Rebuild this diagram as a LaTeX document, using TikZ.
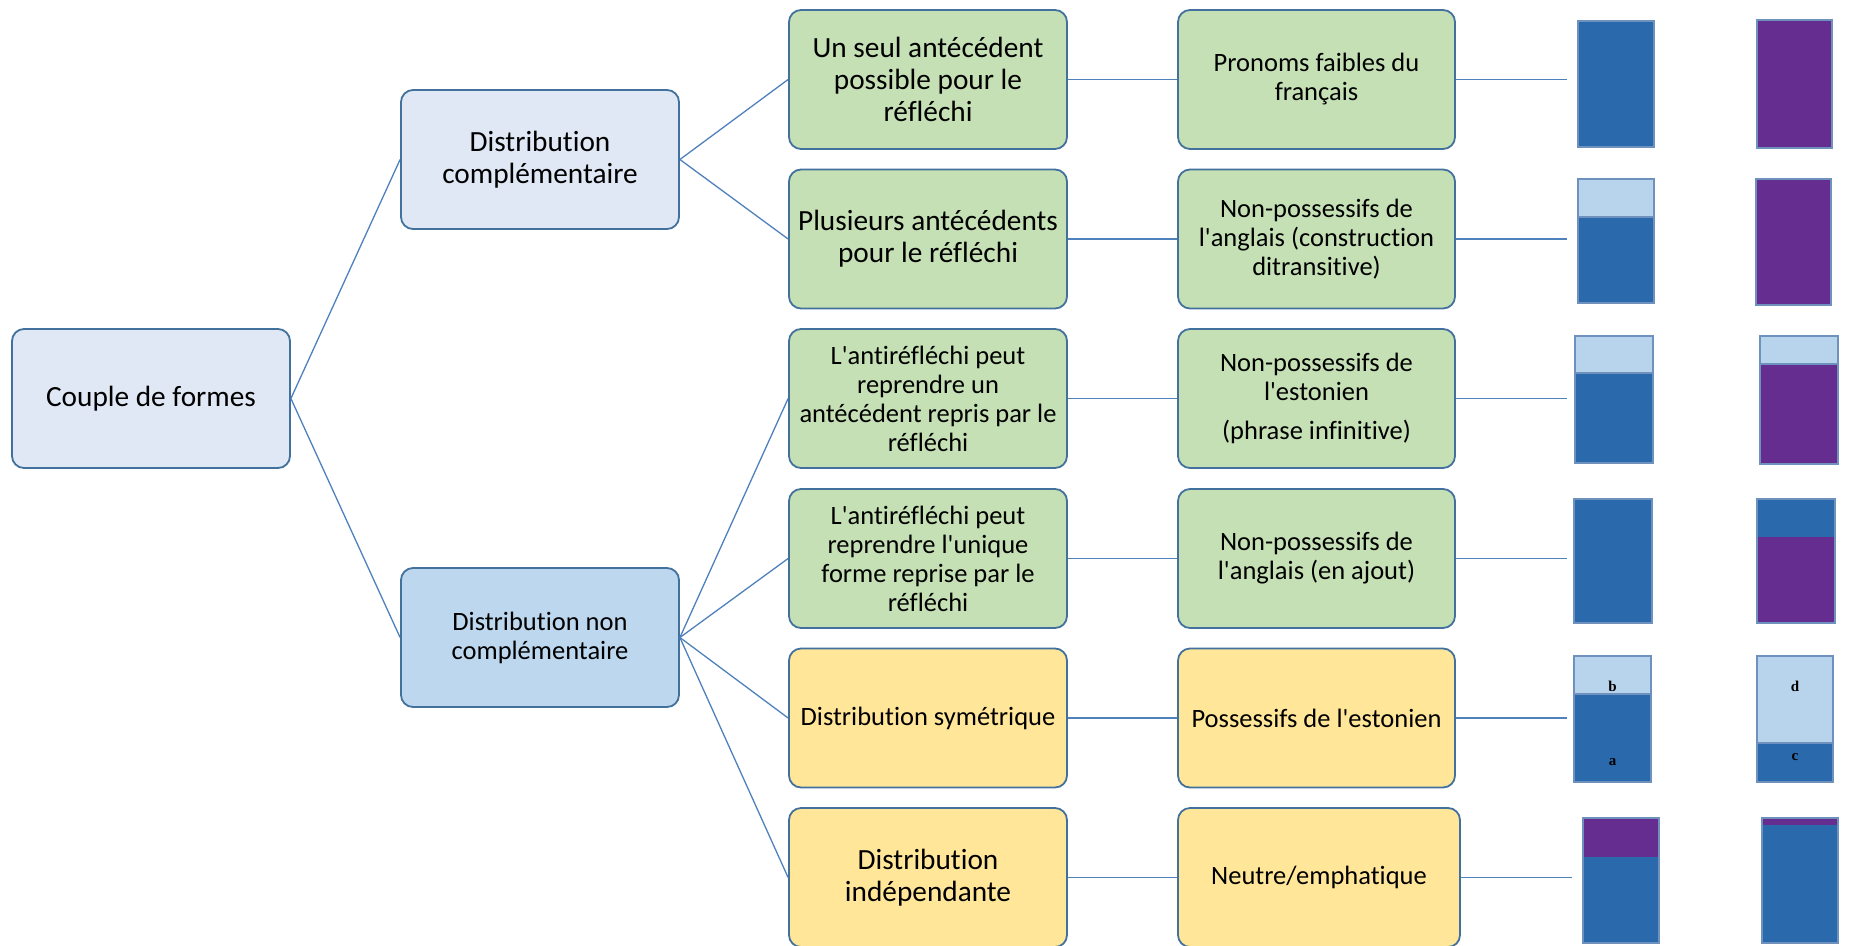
\documentclass[tikz,border=0pt]{standalone}
\usepackage{fontspec}
\setmainfont{Carlito}[Ligatures={TeXOff,NoCommon}]
\newfontfamily\lettfont{Liberation Serif}
\definecolor{bordc}{RGB}{65,113,156}
\definecolor{connc}{RGB}{79,129,189}
\definecolor{fillA}{RGB}{224,232,245}
\definecolor{fillB}{RGB}{189,215,238}
\definecolor{fillG}{RGB}{197,224,180}
\definecolor{fillY}{RGB}{255,230,153}
\definecolor{barblue}{RGB}{42,106,172}
\definecolor{barpurple}{RGB}{101,45,144}
\definecolor{barlight}{RGB}{184,211,236}
\definecolor{barline}{RGB}{110,145,190}
\tikzset{
  box/.style={draw=bordc, line width=1.8pt, rounded corners=12pt, rectangle,
    minimum width=278pt, minimum height=139pt, align=center, inner sep=2pt, text=black},
  big/.style={font=\fontsize{29.3}{32}\selectfont},
  small/.style={font=\fontsize{26.5}{29}\selectfont},
  conn/.style={draw=connc, line width=1.3pt},
  barfr/.style={draw=barline, line width=1.4pt},
  lett/.style={font=\lettfont\bfseries\fontsize{15}{15}\selectfont, text=black, inner sep=0pt}
}
\begin{document}
\begin{tikzpicture}[x=1pt,y=-1pt]
\useasboundingbox (0,0) rectangle (1849,945);
\fill[white] (0,0) rectangle (1849,945);
% column 1
\node[box, big, fill=fillA] (couple) at (151,398.5) {Couple de formes};
\node[box, big, fill=fillA] (dcompl) at (540,159.5) {Distribution\\complémentaire};
\node[box, small, fill=fillB] (dnon) at (540,637.5) {Distribution non\\complémentaire};
% column 2
\node[box, big, fill=fillG] (a1) at (928,79.5) {Un seul antécédent\\possible pour le\\réfléchi};
\node[box, big, fill=fillG] (a2) at (928,239) {Plusieurs antécédents\\pour le réfléchi};
\node[box, small, fill=fillG] (a3) at (928,398.5) {L'antiréfléchi peut\\reprendre un\\antécédent repris par le\\réfléchi};
\node[box, small, fill=fillG] (a4) at (928,558.5) {L'antiréfléchi peut\\reprendre l'unique\\forme reprise par le\\réfléchi};
\node[box, small, fill=fillY] (a5) at (928,718) {Distribution symétrique};
\node[box, big, fill=fillY] (a6) at (928,877.5) {Distribution\\indépendante};
% column 3
\node[box, small, fill=fillG, minimum width=277pt] (b1) at (1316.5,79.5) {Pronoms faibles du\\français};
\node[box, small, fill=fillG, minimum width=277pt] (b2) at (1316.5,239) {Non-possessifs de\\l'anglais (construction\\ditransitive)};
\node[box, small, fill=fillG, minimum width=277pt] (b3) at (1316.5,398.5) {Non-possessifs de\\l'estonien\\[10pt](phrase infinitive)};
\node[box, small, fill=fillG, minimum width=277pt] (b4) at (1316.5,558.5) {Non-possessifs de\\l'anglais (en ajout)};
\node[box, small, fill=fillY, minimum width=277pt] (b5) at (1316.5,718) {Possessifs de l'estonien};
\node[box, small, fill=fillY, minimum width=282pt] (b6) at (1319,877.5) {Neutre/emphatique};
% connectors
\draw[conn] (couple.east) -- (dcompl.west);
\draw[conn] (couple.east) -- (dnon.west);
\draw[conn] (dcompl.east) -- (a1.west);
\draw[conn] (dcompl.east) -- (a2.west);
\foreach \n in {a3,a4,a5,a6} \draw[conn] (dnon.east) -- (\n.west);
\foreach \n in {1,...,6} \draw[conn] (a\n.east) -- (b\n.west);
\coordinate (e1) at (1567,79.5);
\coordinate (e2) at (1567,239);
\coordinate (e3) at (1567,398.5);
\coordinate (e4) at (1567,558.5);
\coordinate (e5) at (1567,718);
\coordinate (e6) at (1572,877.5);
\foreach \n in {1,...,6} \draw[conn] (b\n.east) -- (e\n);
% bars row 1
\fill[barblue] (1578,21) rectangle (1654,147); \draw[barfr] (1578,21) rectangle (1654,147);
\fill[barpurple] (1757,20) rectangle (1832,148); \draw[barfr] (1757,20) rectangle (1832,148);
% row 2
\fill[barblue] (1578,179) rectangle (1654,303); \fill[barlight] (1578,179) rectangle (1654,217);
\draw[barfr] (1578,217) -- (1654,217); \draw[barfr] (1578,179) rectangle (1654,303);
\fill[barpurple] (1756,179) rectangle (1831,305); \draw[barfr] (1756,179) rectangle (1831,305);
% row 3
\fill[barblue] (1575,336) rectangle (1653,463); \fill[barlight] (1575,336) rectangle (1653,373);
\draw[barfr] (1575,373) -- (1653,373); \draw[barfr] (1575,336) rectangle (1653,463);
\fill[barpurple] (1760,336) rectangle (1838,464); \fill[barlight] (1760,336) rectangle (1838,364);
\draw[barfr] (1760,364) -- (1838,364); \draw[barfr] (1760,336) rectangle (1838,464);
% row 4
\fill[barblue] (1574,499) rectangle (1652,623); \draw[barfr] (1574,499) rectangle (1652,623);
\fill[barpurple] (1757,499) rectangle (1835,623); \fill[barblue] (1757,499) rectangle (1835,537);
\draw[barfr] (1757,499) rectangle (1835,623);
% row 5
\fill[barblue] (1574,656) rectangle (1651,782); \fill[barlight] (1574,656) rectangle (1651,694);
\draw[barfr] (1574,694) -- (1651,694); \draw[barfr] (1574,656) rectangle (1651,782);
\node[lett] (lb) at (1612.5,686) {b};
\node[lett] (la) at (1612.5,762) {a};
\fill[barblue] (1757,656) rectangle (1833,782); \fill[barlight] (1757,656) rectangle (1833,743);
\draw[barfr] (1757,743) -- (1833,743); \draw[barfr] (1757,656) rectangle (1833,782);
\node[lett] (ld) at (1795,686) {d};
\node[lett] (lc) at (1795,757) {c};
% row 6
\fill[barblue] (1583,818) rectangle (1659,943); \fill[barpurple] (1583,818) rectangle (1659,857);
\draw[barfr] (1583,818) rectangle (1659,943);
\fill[barblue] (1762,818) rectangle (1838,943); \fill[barpurple] (1762,818) rectangle (1838,825);
\draw[barfr] (1762,818) rectangle (1838,943);
\end{tikzpicture}
\end{document}
